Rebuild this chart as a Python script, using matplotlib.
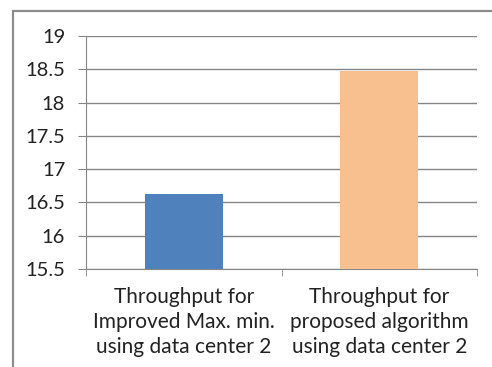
import matplotlib.pyplot as plt
from matplotlib.patches import Rectangle

categories = ["Throughput for\nImproved Max. min.\nusing data center 2",
              "Throughput for\nproposed algorithm\nusing data center 2"]
values = [16.62, 18.48]
colors = ["#4F81BD", "#F9C08F"]
y_ticks = [15.5, 16, 16.5, 17, 17.5, 18, 18.5, 19]
y_labels = ["15.5", "16", "16.5", "17", "17.5", "18", "18.5", "19"]

W, H = 492, 367
fig = plt.figure(figsize=(W / 100, H / 100), dpi=100)
plt.rcParams['font.family'] = ['Lato', 'DejaVu Sans']

# outer chart frame, cut off on the right and bottom
fig.patches.append(Rectangle((13 / W, -0.1), 1.2, 1 - 11 / H + 0.1,
                             transform=fig.transFigure, fill=False,
                             edgecolor="#8c8c8c", linewidth=1.6))

ax = fig.add_axes([86 / W, 1 - 269 / H, (477 - 86) / W, (269 - 36) / H])
ax.bar(range(len(values)), values, width=0.40, color=colors, zorder=3)
ax.set_xlim(-0.5, 1.5)
ax.set_ylim(15.5, 19)
ax.set_yticks(y_ticks)
ax.set_yticklabels(y_labels, fontsize=14.5, color="#222222")
ax.set_xticks([-0.5, 0.5, 1.5], minor=True)
ax.set_xticks([0, 1])
ax.set_xticklabels(categories, fontsize=15, color="#222222", linespacing=1.32)
ax.tick_params(axis='x', which='major', length=0, pad=13)
ax.tick_params(axis='x', which='minor', length=5, color="#868686", direction='out')
ax.tick_params(axis='y', length=6, color="#868686", pad=9)
ax.grid(axis='y', color="#868686", linewidth=1, zorder=0)
for s in ["top", "right"]:
    ax.spines[s].set_visible(False)
ax.spines["left"].set_color("#868686")
ax.spines["bottom"].set_color("#868686")

fig.savefig("out.png", dpi=100)
